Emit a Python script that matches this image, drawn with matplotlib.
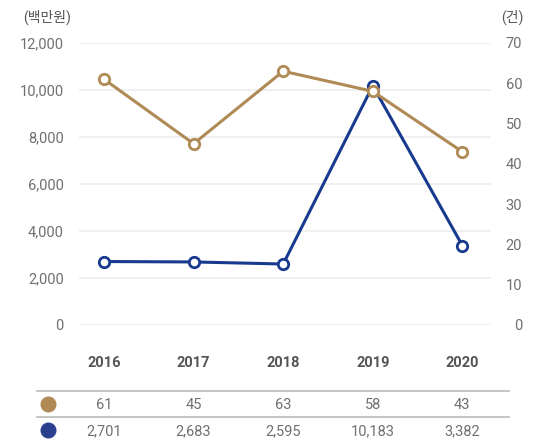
import matplotlib.pyplot as plt
from matplotlib.lines import Line2D

plt.rcParams['font.family'] = ['Roboto', 'Noto Sans CJK KR', 'DejaVu Sans']

years = ['2016', '2017', '2018', '2019', '2020']
counts = [61, 45, 63, 58, 43]              # 건 (right axis)
amounts = [2701, 2683, 2595, 10183, 3382]  # 백만원 (left axis)
left_ticks = [0, 2000, 4000, 6000, 8000, 10000, 12000]
right_ticks = [0, 10, 20, 30, 40, 50, 60, 70]

gold = '#B08A55'
navy = '#173A8E'
txt = '#707070'

fig = plt.figure(figsize=(5.46, 4.41), dpi=100)
W, H = 546, 441
top, bot = 43, 325
ax = fig.add_axes([79 / W, 1 - bot / H, (491 - 79) / W, (bot - top) / H])
ax2 = ax.twinx()

x = list(range(len(years)))
ax.set_xlim(-0.28, 4.32)
ax.set_ylim(0, 12000)
ax2.set_ylim(0, 70)

for t in left_ticks:
    ax.axhline(t, color='#ededed', lw=1.2, zorder=0)

ax.plot(x, amounts, color=navy, lw=2.2, marker='o', ms=7.5, mfc='white',
        mec=navy, mew=2, clip_on=False, zorder=3)
ax2.plot(x, counts, color=gold, lw=2.2, marker='o', ms=7.5, mfc='white',
         mec=gold, mew=2, clip_on=False, zorder=3)

for a in (ax, ax2):
    for s in a.spines.values():
        s.set_visible(False)
    a.tick_params(length=0, labelsize=10.5, colors=txt)

ax.set_yticks(left_ticks)
ax.set_yticklabels([f'{v:,}' for v in left_ticks])
ax.tick_params(axis='y', pad=11)
ax2.set_yticks(right_ticks)
ax2.set_yticklabels([str(v) for v in right_ticks], ha='right')
ax2.tick_params(axis='y', pad=22.5)
ax.set_xticks([])

fig.text(23 / W, 1 - 17 / H, '(백만원)', fontsize=10, color='#555555', va='center', ha='left')
fig.text(524 / W, 1 - 17 / H, '(건)', fontsize=10, color='#555555', va='center', ha='right')

hgt = bot - top
tr = ax.get_xaxis_transform()
for i, y in enumerate(years):
    ax.text(i, (bot - 363) / hgt, y, transform=tr, ha='center', va='center', fontsize=10.5,
            fontweight='bold', color='#555555')
    ax.text(i, (bot - 405) / hgt, str(counts[i]), transform=tr, ha='center', va='center',
            fontsize=10.5, color=txt)
    ax.text(i, (bot - 431) / hgt, f'{amounts[i]:,}', transform=tr, ha='center', va='center',
            fontsize=10.5, color=txt)

for yy in (391, 417):
    fig.add_artist(Line2D([37 / W, 509 / W], [1 - yy / H, 1 - yy / H],
                          color='#bbbbbb', lw=1.2))
fig.add_artist(Line2D([48 / W], [1 - 404 / H], marker='o', ms=10.5, color=gold, lw=0))
fig.add_artist(Line2D([48 / W], [1 - 430 / H], marker='o', ms=10.5, color='#2B3F8F', lw=0))

fig.savefig('out.png', dpi=100)
